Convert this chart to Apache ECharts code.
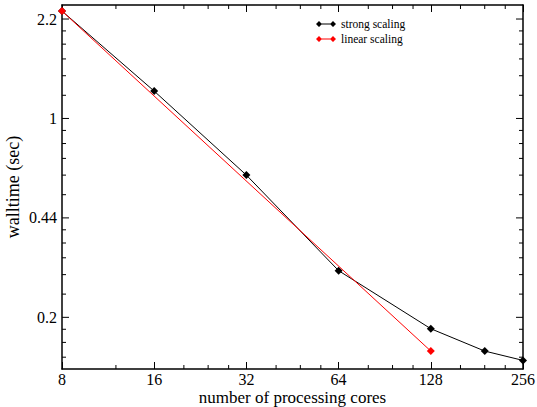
<!DOCTYPE html>
<html>
<head>
<meta charset="utf-8">
<script src="https://cdn.jsdelivr.net/npm/echarts@6/dist/echarts.min.js"></script>
<style>html,body{margin:0;padding:0;background:#fff;}#c{width:537px;height:407px;}#err{position:absolute;left:70px;top:150px;color:#00f;font:10px monospace;}</style>
</head>
<body>
<div id="c"></div>
<div id="err"></div>
<script>
window.onerror = function (m) { document.getElementById('err').textContent += m + ' | '; };
// ---- data ----
const cores = [8, 16, 32, 64, 128, 192, 256];
const strongScaling = [2.40, 1.25, 0.63, 0.289, 0.180, 0.150, 0.139];
const linearCores = [8, 128];
const linearScaling = [2.40, 0.150];
const yTickValues = [0.1975, 0.4444, 1, 2.25];
const yTickLabels = ['0.2', '0.44', '1', '2.2'];
const xMinorTicks = [12, 20, 24, 28, 40, 48, 56, 80, 96, 112, 160, 192, 224];
const yMinorTicks = [0.1427, 0.1610, 0.1792, 0.2387, 0.2798, 0.3210, 0.3621, 0.4033,
                     0.537, 0.630, 0.722, 0.815, 0.907, 1.208, 1.417, 1.625, 1.833, 2.042];
const xAxisTitle = 'number of processing cores';
const yAxisTitle = 'walltime (sec)';

const X_MIN = 8, X_MAX = 256;
const Y_MIN = 0.1296, Y_MAX = 2.5226;
const FONT = "'Liberation Serif', 'Times New Roman', serif";

(function () {
const chart = echarts.init(document.getElementById('c'), null, {renderer: 'svg'});

const axisLineStyle = {color: '#000', width: 1.5};
const tickStyle = {color: '#000', width: 1};

function xAxisCfg(pos, showLabel) {
  return {
    type: 'log', logBase: 2, min: X_MIN, max: X_MAX, interval: 1,
    position: pos,
    axisLine: {show: true, lineStyle: axisLineStyle},
    axisTick: {show: true, inside: true, length: 7, lineStyle: tickStyle},
    minorTick: {show: false},
    splitLine: {show: false},
    axisLabel: {show: showLabel, margin: 3, fontFamily: FONT, fontSize: 16, lineHeight: 14, color: '#000',
                formatter: v => String(Math.round(v))}
  };
}
function yAxisCfg(pos, showName) {
  return {
    type: 'log', logBase: 10, min: Y_MIN, max: Y_MAX,
    position: pos,
    name: showName ? yAxisTitle : '',
    nameLocation: 'middle', nameGap: 40,
    nameTextStyle: {fontFamily: FONT, fontSize: 18, color: '#000'},
    axisLine: {show: true, lineStyle: axisLineStyle},
    axisTick: {show: false},
    minorTick: {show: false},
    splitLine: {show: false},
    axisLabel: {show: false}
  };
}

const legendIcon = 'path://M0,3L3,0L6,3L3,6Z M14,3L17,0L20,3L17,6Z M3,2.5L17,2.5L17,3.5L3,3.5Z';

chart.setOption({
  animation: false,
  backgroundColor: '#fff',
  grid: {left: 62, right: 14, top: 5, bottom: 38, containLabel: false, outerBoundsMode: 'none'},
  legend: {
    orient: 'vertical', left: 311, top: 13, itemGap: 3,
    itemWidth: 20, itemHeight: 6,
    textStyle: {fontFamily: FONT, fontSize: 11.5, color: '#000', lineHeight: 12},
    data: [{name: 'strong scaling', icon: legendIcon}, {name: 'linear scaling', icon: legendIcon}]
  },
  xAxis: [xAxisCfg('bottom', true), xAxisCfg('top', false)],
  yAxis: [yAxisCfg('left', true), yAxisCfg('right', false)],
  series: [
    {type: 'line', name: 'strong scaling',
     data: cores.map((c, i) => [c, strongScaling[i]]),
     symbol: 'diamond', symbolSize: 8, showAllSymbol: true,
     lineStyle: {color: '#000', width: 1}, itemStyle: {color: '#000'}, z: 3},
    {type: 'line', name: 'linear scaling',
     data: linearCores.map((c, i) => [c, linearScaling[i]]),
     symbol: 'diamond', symbolSize: 8,
     lineStyle: {color: '#ff0000', width: 1}, itemStyle: {color: '#ff0000'}, z: 4}
  ]
});

// ---- axis ticks/labels placed through the chart's own scales ----
const toPx = (x, y) => chart.convertToPixel({xAxisIndex: 0, yAxisIndex: 0}, [x, y]);
const pL = toPx(X_MIN, 1)[0], pR = toPx(X_MAX, 1)[0];
const pT = toPx(X_MIN, Y_MAX)[1], pB = toPx(X_MIN, Y_MIN)[1];
const g = [];
function hTick(y, len) {
  g.push({type: 'line', silent: true, z: 5, shape: {x1: pL, y1: y, x2: pL + len, y2: y}, style: {stroke: '#000', lineWidth: 1}});
  g.push({type: 'line', silent: true, z: 5, shape: {x1: pR, y1: y, x2: pR - len, y2: y}, style: {stroke: '#000', lineWidth: 1}});
}
function vTick(x, len) {
  g.push({type: 'line', silent: true, z: 5, shape: {x1: x, y1: pB, x2: x, y2: pB - len}, style: {stroke: '#000', lineWidth: 1}});
  g.push({type: 'line', silent: true, z: 5, shape: {x1: x, y1: pT, x2: x, y2: pT + len}, style: {stroke: '#000', lineWidth: 1}});
}
yTickValues.forEach((v, i) => {
  const y = toPx(X_MIN, v)[1];
  hTick(y, 7);
  g.push({type: 'text', silent: true, z: 5, x: pL - 5, y: y,
          style: {text: yTickLabels[i], font: '16px ' + FONT, fill: '#000', align: 'right', verticalAlign: 'middle'}});
});
yMinorTicks.forEach(v => hTick(toPx(X_MIN, v)[1], 4));
xMinorTicks.forEach(v => vTick(toPx(v, 1)[0], 4));
g.push({type: 'text', silent: true, z: 5, x: (pL + pR) / 2, y: pB + 28,
        style: {text: xAxisTitle, font: '17px ' + FONT, lineHeight: 16, fill: '#000', align: 'center', verticalAlign: 'middle'}});
chart.setOption({graphic: g});
})();
</script>
</body>
</html>
